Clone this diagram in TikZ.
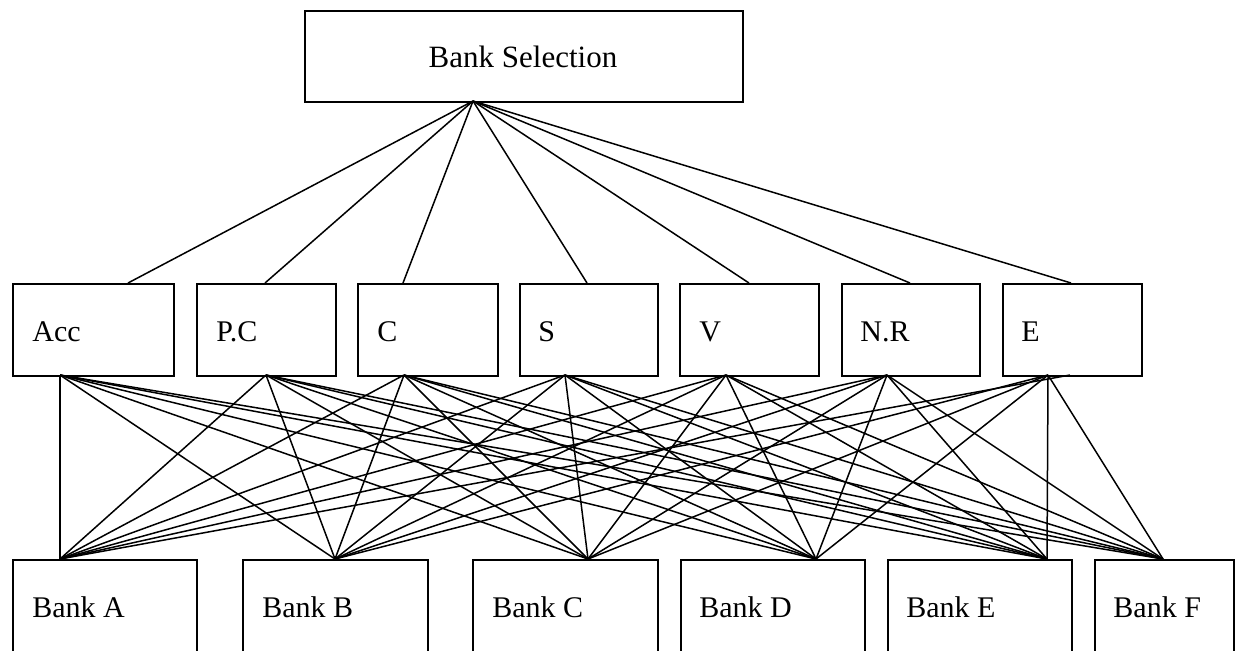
\documentclass[tikz,border=0pt]{standalone}
\usepackage{fontspec}
\setmainfont{Liberation Serif}
\begin{document}
\begin{tikzpicture}[x=0.5pt,y=-0.5pt,
  box/.style={draw, line width=0.8pt, anchor=north west, inner sep=0pt},
  lbl/.style={anchor=base west, inner sep=0pt, font=\fontsize{15}{18}\selectfont},
  link/.style={line width=0.75pt}]
\useasboundingbox (0,0) rectangle (1240,650);
\clip (0,0) rectangle (1240,650);
\newcommand\mkbox[5]{\node[box, minimum width={(#4-#2)*0.5pt}, minimum height={(#5-#3)*0.5pt}] (#1) at (#2,#3) {};}
% top
\mkbox{top}{304}{10}{742}{101}
\node[lbl, anchor=base, font=\fontsize{15.5}{18}\selectfont] (topT) at (523,67) {Bank Selection};
% criteria
\mkbox{acc}{12}{283}{173}{375}
\mkbox{pc}{196}{283}{335}{375}
\mkbox{cc}{357}{283}{497}{375}
\mkbox{ss}{519}{283}{657}{375}
\mkbox{vv}{679}{283}{818}{375}
\mkbox{nr}{841}{283}{979}{375}
\mkbox{ee}{1002}{283}{1141}{375}
\node[lbl] (accT) at (32,341) {Acc};
\node[lbl] (pcT) at (216,341) {P.C};
\node[lbl] (ccT) at (377,341) {C};
\node[lbl] (ssT) at (538,341) {S};
\node[lbl] (vvT) at (699,341) {V};
\node[lbl] (nrT) at (860,341) {N.R};
\node[lbl] (eeT) at (1021,341) {E};
% banks
\mkbox{ba}{12}{559}{196}{720}
\mkbox{bb}{242}{559}{427}{720}
\mkbox{bc}{472}{559}{657}{720}
\mkbox{bd}{680}{559}{864}{720}
\mkbox{be}{887}{559}{1071}{720}
\mkbox{bf}{1094}{559}{1233}{720}
\node[lbl] (baT) at (32,617) {Bank A};
\node[lbl] (bbT) at (262,617) {Bank B};
\node[lbl] (bcT) at (492,617) {Bank C};
\node[lbl] (bdT) at (699,617) {Bank D};
\node[lbl] (beT) at (906,617) {Bank E};
\node[lbl] (bfT) at (1113,617) {Bank F};
% connection points
\coordinate (apex) at (473,101);
\coordinate (accU) at (128,283);
\coordinate (pcU) at (265,283);
\coordinate (ccU) at (403,283);
\coordinate (ssU) at (587,283);
\coordinate (vvU) at (749,283);
\coordinate (nrU) at (910,283);
\coordinate (eeU) at (1071,283);
\coordinate (accD) at (60,375);
\coordinate (pcD) at (266,375);
\coordinate (ccD) at (404,375);
\coordinate (ssD) at (565,375);
\coordinate (vvD) at (726,375);
\coordinate (nrD) at (887,375);
\coordinate (eeD) at (1048,375);
\coordinate (eeD2) at (1070,375);
\coordinate (baU) at (60,559);
\coordinate (bbU) at (335,559);
\coordinate (bcU) at (588,559);
\coordinate (bdU) at (816,559);
\coordinate (beU) at (1047,559);
\coordinate (bfU) at (1163,559);
% links top -> criteria
\foreach \c in {acc,pc,cc,ss,vv,nr,ee} \draw[link] (apex) -- (\c U);
% links criteria -> banks
\foreach \c in {acc,pc,cc,ss,vv,nr} {
  \foreach \b in {ba,bb,bc,bd,be,bf} \draw[link] (\c D) -- (\b U);
}
\foreach \b in {bb,bc,bd,be,bf} \draw[link] (eeD) -- (\b U);
\draw[link] (eeD2) -- (baU);
\end{tikzpicture}
\end{document}
